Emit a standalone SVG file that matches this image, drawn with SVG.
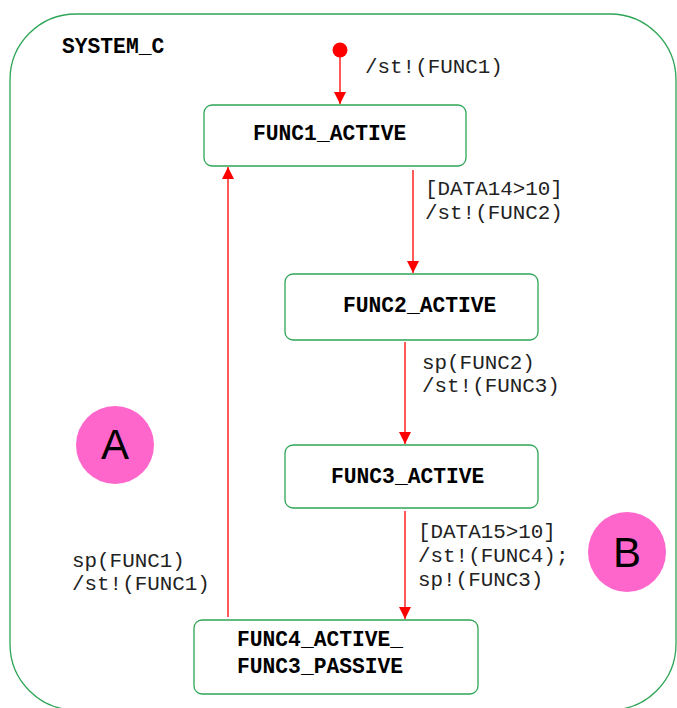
<svg xmlns="http://www.w3.org/2000/svg" width="677" height="708" viewBox="0 0 677 708">
  <style>
    .frame { fill: none; stroke: #2EA556; stroke-width: 1.3; }
    .state { fill: #FFFFFF; stroke: #2EA556; stroke-width: 1.3; }
    .name { font-family: "Liberation Mono", "Courier New", monospace; font-weight: bold; font-size: 21.3px; fill: #000; }
    .label { font-family: "Liberation Mono", "Courier New", monospace; font-size: 20.9px; fill: #222; }
    .edge { stroke: #FF0000; stroke-width: 1.3; fill: none; marker-end: url(#arrow); }
    .tag { fill: #FF66CC; }
    .tagtext { font-family: "Liberation Sans", Arial, sans-serif; font-size: 42px; fill: #000; text-anchor: middle; }
  </style>
  <defs>
    <marker id="arrow" viewBox="0 0 12 12" refX="12" refY="6" markerWidth="12" markerHeight="12" markerUnits="userSpaceOnUse" orient="auto">
      <path d="M0,0 L12,6 L0,12 Z" fill="#FF0000"/>
    </marker>
  </defs>
  <rect width="677" height="708" fill="#FFFFFF"/>

  <!-- enclosing superstate -->
  <g id="system_c">
    <rect class="frame" x="10" y="14" width="666" height="696" rx="66" ry="66"/>
    <text class="name" x="62" y="53">SYSTEM_C</text>
  </g>

  <!-- initial pseudo-state -->
  <g id="initial">
    <circle cx="340" cy="50" r="7.5" fill="#FF0000"/>
  </g>

  <g id="func1_active">
    <rect class="state" x="204" y="105" width="262" height="61" rx="8" ry="8"/>
    <text class="name" x="253" y="140">FUNC1_ACTIVE</text>
  </g>

  <g id="func2_active">
    <rect class="state" x="285" y="274" width="253" height="66" rx="8" ry="8"/>
    <text class="name" x="343" y="312">FUNC2_ACTIVE</text>
  </g>

  <g id="func3_active">
    <rect class="state" x="285" y="445" width="253" height="63" rx="8" ry="8"/>
    <text class="name" x="331" y="483">FUNC3_ACTIVE</text>
  </g>

  <g id="func4_active_func3_passive">
    <rect class="state" x="194" y="620" width="284" height="74" rx="8" ry="8"/>
    <text class="name" x="237" y="646">FUNC4_ACTIVE_</text>
    <text class="name" x="237" y="673">FUNC3_PASSIVE</text>
  </g>

  <!-- transitions -->
  <g id="connectors">
    <line class="edge" x1="340" y1="57" x2="340" y2="104"/>
    <line class="edge" x1="413" y1="170" x2="413" y2="273"/>
    <line class="edge" x1="405" y1="342" x2="405" y2="444"/>
    <line class="edge" x1="405" y1="511" x2="405" y2="619"/>
    <line class="edge" x1="228" y1="617" x2="228" y2="167"/>

    <text class="label" x="365" y="73">/st!(FUNC1)</text>
    <text class="label" x="425" y="195">[DATA14&gt;10]</text>
    <text class="label" x="425" y="219">/st!(FUNC2)</text>
    <text class="label" x="422" y="369">sp(FUNC2)</text>
    <text class="label" x="422" y="392">/st!(FUNC3)</text>
    <text class="label" x="418" y="538">[DATA15&gt;10]</text>
    <text class="label" x="418" y="562">/st!(FUNC4);</text>
    <text class="label" x="418" y="586">sp!(FUNC3)</text>
    <text class="label" x="72" y="567">sp(FUNC1)</text>
    <text class="label" x="72" y="590">/st!(FUNC1)</text>
  </g>

  <!-- region markers -->
  <g id="marker_a">
    <circle class="tag" cx="115" cy="445" r="39"/>
    <text class="tagtext" x="115" y="459">A</text>
  </g>
  <g id="marker_b">
    <ellipse class="tag" cx="627" cy="552" rx="39" ry="40"/>
    <text class="tagtext" x="627" y="567">B</text>
  </g>
</svg>
